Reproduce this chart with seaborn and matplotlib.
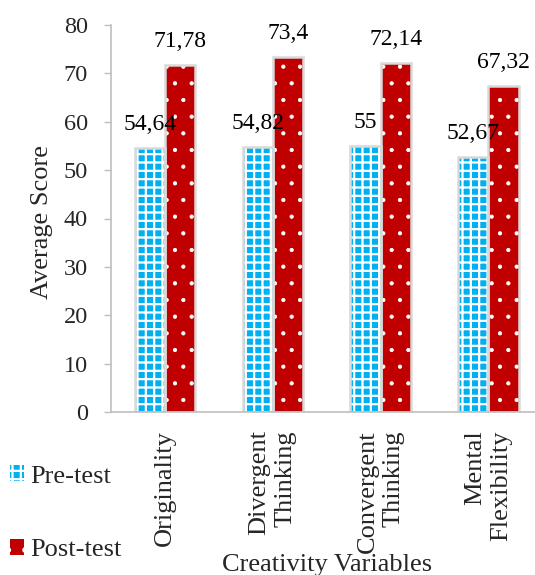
import matplotlib
matplotlib.use("Agg")
import matplotlib.pyplot as plt
from matplotlib.patches import Rectangle
import seaborn as sns
import pandas as pd

# Creativity scores before and after the programme
categories = ["Originality", "Divergent\nThinking", "Convergent\nThinking", "Mental\nFlexibility"]
pre_test = [54.64, 54.82, 55.00, 52.67]
post_test = [71.78, 73.40, 72.14, 67.32]
pre_labels = ["54,64", "54,82", "55", "52,67"]
post_labels = ["71,78", "73,4", "72,14", "67,32"]
series = ["Pre-test", "Post-test"]
y_ticks = [0, 10, 20, 30, 40, 50, 60, 70, 80]

df = pd.DataFrame({
    "category": categories * 2,
    "group": [series[0]] * len(categories) + [series[1]] * len(categories),
    "score": pre_test + post_test,
})

sns.set_theme(style="white")
plt.rcParams["font.family"] = ["Liberation Serif", "DejaVu Serif"]
plt.rcParams["hatch.linewidth"] = 1.6

PRE_COLOR = "#00B0F0"
POST_COLOR = "#C00000"
EDGE = "#D9D9D9"
AXIS = "#BFBFBF"
PRE_HATCH = "++"
POST_HATCH = "."


def style_patch(p, hatch, hatch_lw):
    p.set_hatch(hatch)
    p.set_edgecolor("white")
    p.set_linewidth(0)
    if hasattr(p, "set_hatch_linewidth"):
        p.set_hatch_linewidth(hatch_lw)


fig = plt.figure(figsize=(5.35, 5.75), dpi=100)
ax = fig.add_axes([0.2075, 0.2835, 0.806, 0.673])

sns.barplot(data=df, x="category", y="score", hue="group",
            palette=[PRE_COLOR, POST_COLOR], width=0.56, ax=ax,
            legend=False, saturation=1)

# patterns: white checks on blue, white dots on red, light grey outline
patches = list(ax.patches)
n = len(categories)
for i, p in enumerate(patches):
    is_pre = i < n
    style_patch(p, PRE_HATCH if is_pre else POST_HATCH, 1.6 if is_pre else 0.6)
    ax.add_patch(Rectangle(p.get_xy(), p.get_width(), p.get_height(),
                           fill=False, edgecolor=EDGE, linewidth=1.8,
                           zorder=p.get_zorder() + 0.1))

# value labels above each bar
for i in range(n):
    for p, val, txt in ((patches[i], pre_test[i], pre_labels[i]),
                        (patches[n + i], post_test[i], post_labels[i])):
        ax.annotate(txt, (p.get_x() + p.get_width() / 2, val),
                    xytext=(0, 18), textcoords="offset pixels",
                    ha="center", va="baseline", fontsize=17, color="black")

ax.set_ylim(0, 80)
ax.set_xlim(-0.5, len(categories) - 0.5)
ax.set_yticks(y_ticks)
ax.set_yticklabels([str(v) for v in y_ticks], fontsize=17.5)
ax.tick_params(axis="y", which="major", left=True, length=5, width=1, color=AXIS, pad=11.5)
ax.tick_params(axis="x", which="major", bottom=False, pad=7)
for lab in ax.get_xticklabels():
    lab.set_rotation(90)
    lab.set_fontsize(19)
    lab.set_ha("center")
    lab.set_va("top")
    lab.set_multialignment("right")
    lab.set_linespacing(1.25)

for s in ["top", "right"]:
    ax.spines[s].set_visible(False)
for s in ["left", "bottom"]:
    ax.spines[s].set_color(AXIS)
    ax.spines[s].set_linewidth(1.2)

ax.set_ylabel("Average Score", fontsize=19)
ax.yaxis.set_label_coords(-0.16, 0.49)
ax.yaxis.label.set_va("center")
ax.set_xlabel("Creativity Variables", fontsize=19)
ax.xaxis.set_label_coords(0.5, -0.395)
ax.xaxis.label.set_va("center")

# legend in the lower-left corner of the figure
handles = [Rectangle((0, 0), 1, 1, facecolor=PRE_COLOR, edgecolor="white", hatch=PRE_HATCH, linewidth=0),
           Rectangle((0, 0), 1, 1, facecolor=POST_COLOR, edgecolor="white", hatch=POST_HATCH, linewidth=0)]
leg = fig.legend(handles, series, loc="upper left", bbox_to_anchor=(0.008, 0.2),
                 frameon=False, fontsize=19, handlelength=0.55, handleheight=0.55,
                 handletextpad=0.25, labelspacing=1.95, borderaxespad=0.0,
                 borderpad=0.2)

fig.savefig("out.png", dpi=100)
